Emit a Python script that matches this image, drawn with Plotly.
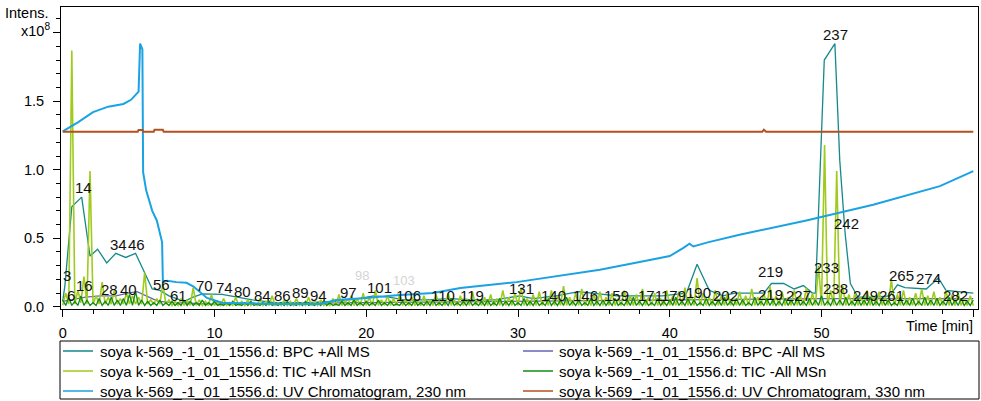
import numpy as np
import plotly.graph_objects as go

FONT = "Liberation Sans, Arial, sans-serif"
SAMPLE = "soya k-569_-1_01_1556.d"

# ---- BPC +All MS (intensity x1e8) ----
bpc_pos_t = [0.0, 0.15, 0.6, 1.25, 1.8, 2.3, 2.9, 3.5, 4.15, 4.8, 5.9, 6.4, 7.0, 8.0, 8.6,
             9.2, 10.5, 11.5, 12.5, 14.0, 16.0, 18.0, 19.5, 20.5, 21.5, 22.5, 24.0, 25.5,
             27.0, 28.5, 30.1, 31.0, 32.5, 34.0, 35.0, 36.5, 38.0, 39.5, 41.1, 41.8, 42.6,
             43.5, 44.3, 45.5, 46.2, 46.7, 47.5, 48.2, 48.8, 49.4, 49.6, 50.18, 50.88,
             51.2, 51.55, 51.9, 52.4, 53.5, 54.5, 55.0, 55.5, 56.9, 57.7, 58.2, 59.0, 60.0]
bpc_pos_v = [0.04, 0.16, 0.73, 0.80, 0.37, 0.42, 0.32, 0.39, 0.36, 0.39, 0.13, 0.12, 0.08,
             0.04, 0.07, 0.095, 0.09, 0.07, 0.05, 0.03, 0.03, 0.04, 0.06, 0.08, 0.07, 0.05,
             0.05, 0.06, 0.05, 0.05, 0.08, 0.06, 0.08, 0.11, 0.10, 0.08, 0.08, 0.08, 0.10,
             0.31, 0.12, 0.08, 0.10, 0.10, 0.10, 0.17, 0.17, 0.13, 0.155, 0.10, 0.10, 1.80,
             1.92, 1.07, 0.54, 0.17, 0.07, 0.07, 0.08, 0.16, 0.14, 0.13, 0.21, 0.12, 0.11, 0.10]

# ---- BPC -All MS ----
bpc_neg_t = [0.0, 0.5, 1.0, 1.5, 2.5, 3.5, 4.3, 4.9, 5.5, 6.3, 7.5, 10.0, 20.0, 30.0, 40.0,
             45.0, 50.0, 55.0, 60.0]
bpc_neg_v = [0.04, 0.05, 0.06, 0.07, 0.08, 0.08, 0.10, 0.11, 0.08, 0.04, 0.03, 0.02, 0.03,
             0.04, 0.05, 0.06, 0.06, 0.06, 0.06]

# ---- TIC +All MSn / TIC -All MSn, one value per 0.2 min scan ----
scan_times = np.round(np.arange(301) * 0.2, 1)
tic_pos = [
    0.01, 0.10, 0.02, 1.87, 0.02, 0.12, 0.03, 0.22, 0.02, 0.99, 0.02, 0.08, 0.02, 0.18, 0.02, 0.07, 0.02, 0.12, 0.02, 0.06,
    0.02, 0.10, 0.02, 0.08, 0.02, 0.07, 0.02, 0.25, 0.02, 0.05, 0.02, 0.06, 0.02, 0.17, 0.02, 0.05, 0.01, 0.04, 0.01, 0.06,
    0.01, 0.05, 0.01, 0.14, 0.01, 0.05, 0.01, 0.04, 0.01, 0.09, 0.01, 0.04, 0.01, 0.06, 0.01, 0.03, 0.01, 0.07, 0.01, 0.04,
    0.01, 0.05, 0.01, 0.03, 0.01, 0.06, 0.01, 0.04, 0.01, 0.08, 0.01, 0.03, 0.01, 0.05, 0.01, 0.04, 0.01, 0.06, 0.01, 0.03,
    0.01, 0.07, 0.01, 0.04, 0.01, 0.05, 0.01, 0.03, 0.01, 0.06, 0.01, 0.09, 0.01, 0.05, 0.01, 0.08, 0.01, 0.06, 0.01, 0.10,
    0.01, 0.07, 0.01, 0.12, 0.01, 0.05, 0.01, 0.08, 0.01, 0.06, 0.01, 0.09, 0.01, 0.05, 0.01, 0.07, 0.01, 0.04, 0.01, 0.08,
    0.01, 0.05, 0.01, 0.09, 0.01, 0.06, 0.01, 0.10, 0.01, 0.05, 0.01, 0.08, 0.01, 0.06, 0.01, 0.11, 0.01, 0.05, 0.01, 0.07,
    0.01, 0.09, 0.01, 0.06, 0.01, 0.12, 0.01, 0.07, 0.01, 0.10, 0.01, 0.14, 0.01, 0.06, 0.01, 0.09, 0.01, 0.11, 0.01, 0.07,
    0.01, 0.12, 0.01, 0.08, 0.01, 0.15, 0.01, 0.07, 0.01, 0.10, 0.01, 0.13, 0.01, 0.06, 0.01, 0.09, 0.01, 0.11, 0.01, 0.07,
    0.01, 0.10, 0.01, 0.06, 0.01, 0.12, 0.01, 0.08, 0.01, 0.09, 0.01, 0.13, 0.01, 0.07, 0.01, 0.10, 0.01, 0.06, 0.01, 0.12,
    0.01, 0.08, 0.01, 0.11, 0.01, 0.14, 0.01, 0.09, 0.01, 0.21, 0.01, 0.10, 0.01, 0.07, 0.01, 0.12, 0.01, 0.08, 0.01, 0.10,
    0.01, 0.06, 0.01, 0.11, 0.01, 0.08, 0.01, 0.13, 0.01, 0.07, 0.01, 0.10, 0.01, 0.15, 0.01, 0.08, 0.01, 0.11, 0.01, 0.07,
    0.01, 0.12, 0.01, 0.08, 0.01, 0.14, 0.01, 0.10, 0.01, 0.30, 0.01, 1.18, 0.01, 0.12, 0.01, 0.99, 0.01, 0.15, 0.01, 0.09,
    0.01, 0.10, 0.01, 0.07, 0.01, 0.12, 0.01, 0.08, 0.01, 0.11, 0.01, 0.07, 0.01, 0.20, 0.01, 0.09, 0.01, 0.12, 0.01, 0.07,
    0.01, 0.10, 0.01, 0.13, 0.01, 0.08, 0.01, 0.11, 0.01, 0.07, 0.01, 0.12, 0.01, 0.09, 0.01, 0.10, 0.01, 0.06, 0.01, 0.08,
    0.01,
]
tic_neg = [
    0.05, 0.01, 0.07, 0.01, 0.04, 0.01, 0.08, 0.01, 0.05, 0.01, 0.03, 0.01, 0.06, 0.01, 0.04, 0.01, 0.07, 0.01, 0.05, 0.01,
    0.06, 0.01, 0.09, 0.01, 0.11, 0.01, 0.05, 0.01, 0.04, 0.01, 0.03, 0.01, 0.05, 0.01, 0.03, 0.01, 0.04, 0.01, 0.03, 0.01,
    0.05, 0.01, 0.04, 0.01, 0.03, 0.01, 0.05, 0.01, 0.03, 0.01, 0.04, 0.01, 0.02, 0.01, 0.03, 0.01, 0.04, 0.01, 0.02, 0.01,
    0.03, 0.01, 0.04, 0.01, 0.02, 0.01, 0.03, 0.01, 0.04, 0.01, 0.02, 0.01, 0.03, 0.01, 0.04, 0.01, 0.02, 0.01, 0.03, 0.01,
    0.04, 0.01, 0.02, 0.01, 0.03, 0.01, 0.04, 0.01, 0.03, 0.01, 0.02, 0.01, 0.04, 0.01, 0.03, 0.01, 0.05, 0.01, 0.03, 0.01,
    0.04, 0.01, 0.03, 0.01, 0.05, 0.01, 0.03, 0.01, 0.04, 0.01, 0.02, 0.01, 0.04, 0.01, 0.03, 0.01, 0.05, 0.01, 0.03, 0.01,
    0.04, 0.01, 0.05, 0.01, 0.03, 0.01, 0.04, 0.01, 0.06, 0.01, 0.03, 0.01, 0.04, 0.01, 0.05, 0.01, 0.03, 0.01, 0.04, 0.01,
    0.05, 0.01, 0.03, 0.01, 0.06, 0.01, 0.04, 0.01, 0.05, 0.01, 0.03, 0.01, 0.06, 0.01, 0.04, 0.01, 0.05, 0.01, 0.03, 0.01,
    0.06, 0.01, 0.04, 0.01, 0.05, 0.01, 0.07, 0.01, 0.04, 0.01, 0.05, 0.01, 0.03, 0.01, 0.06, 0.01, 0.04, 0.01, 0.05, 0.01,
    0.04, 0.01, 0.06, 0.01, 0.03, 0.01, 0.05, 0.01, 0.07, 0.01, 0.04, 0.01, 0.05, 0.01, 0.03, 0.01, 0.06, 0.01, 0.04, 0.01,
    0.05, 0.01, 0.07, 0.01, 0.04, 0.01, 0.06, 0.01, 0.05, 0.01, 0.03, 0.01, 0.06, 0.01, 0.04, 0.01, 0.05, 0.01, 0.07, 0.01,
    0.04, 0.01, 0.06, 0.01, 0.05, 0.01, 0.03, 0.01, 0.07, 0.01, 0.04, 0.01, 0.06, 0.01, 0.05, 0.01, 0.04, 0.01, 0.06, 0.01,
    0.05, 0.01, 0.07, 0.01, 0.04, 0.01, 0.06, 0.01, 0.05, 0.01, 0.08, 0.01, 0.04, 0.01, 0.06, 0.01, 0.05, 0.01, 0.07, 0.01,
    0.04, 0.01, 0.06, 0.01, 0.05, 0.01, 0.07, 0.01, 0.04, 0.01, 0.06, 0.01, 0.05, 0.01, 0.03, 0.01, 0.07, 0.01, 0.05, 0.01,
    0.06, 0.01, 0.04, 0.01, 0.07, 0.01, 0.05, 0.01, 0.06, 0.01, 0.04, 0.01, 0.07, 0.01, 0.05, 0.01, 0.06, 0.01, 0.04, 0.01,
    0.05,
]

# ---- UV chromatograms ----
uv230_t = [0.0, 1.0, 2.0, 3.0, 4.0, 4.5, 5.0, 5.03, 5.1, 5.25, 5.3, 5.5, 5.9, 6.2, 6.55, 6.6,
           6.9, 7.5, 8.15, 8.6, 9.5, 10.5, 14.0, 17.0, 18.0, 20.0, 22.0, 24.4, 26.2, 29.9,
           32.5, 35.4, 38.6, 40.0, 40.9, 41.3, 41.55, 42.5, 44.6, 49.0, 53.4, 57.8, 60.0]
uv230_v = [1.28, 1.345, 1.42, 1.46, 1.48, 1.51, 1.57, 1.70, 1.92, 1.88, 0.98, 0.85, 0.70, 0.63,
           0.47, 0.18, 0.19, 0.18, 0.175, 0.15, 0.065, 0.03, 0.02, 0.02, 0.05, 0.065, 0.085,
           0.10, 0.137, 0.18, 0.22, 0.27, 0.34, 0.37, 0.43, 0.46, 0.44, 0.47, 0.525, 0.63,
           0.745, 0.88, 0.99]
uv330_t = [0.0, 4.95, 5.0, 5.25, 5.3, 6.0, 6.05, 6.6, 6.65, 46.1, 46.2, 46.35, 60.0]
uv330_v = [1.277, 1.277, 1.29, 1.29, 1.277, 1.277, 1.292, 1.292, 1.277, 1.277, 1.292, 1.277, 1.277]

# ---- peak numbers (time, height of the label) ----
peak_labels = ["3", "6", "14", "16", "28", "34", "40", "46", "56", "61", "70", "74", "80", "84",
               "86", "89", "94", "97", "101", "106", "110", "119", "131", "140", "146", "159",
               "171", "179", "190", "202", "219", "219", "227", "233", "237", "238", "242",
               "249", "261", "265", "274", "282"]
label_t = [0.26, 0.52, 1.35, 1.46, 3.06, 3.65, 4.31, 4.87, 6.52, 7.61, 9.37, 10.64, 11.85,
           13.17, 14.49, 15.70, 16.84, 18.81, 20.90, 22.77, 25.08, 26.95, 30.20, 32.33, 34.42,
           36.51, 38.70, 40.24, 41.88, 43.64, 46.61, 46.61, 48.48, 50.35, 50.89, 50.89, 51.66,
           52.87, 54.63, 55.29, 57.04, 58.80]
label_v = [0.232, 0.081, 0.869, 0.154, 0.123, 0.456, 0.123, 0.456, 0.164, 0.081, 0.154, 0.144,
           0.115, 0.081, 0.081, 0.106, 0.081, 0.106, 0.144, 0.081, 0.081, 0.081, 0.130, 0.081,
           0.081, 0.081, 0.081, 0.081, 0.106, 0.081, 0.256, 0.093, 0.081, 0.285, 1.988, 0.130,
           0.609, 0.081, 0.081, 0.227, 0.203, 0.081]

# faint peak numbers of the negative-mode trace, drawn behind
faint_labels = ["98", "103"]
faint_t = [19.72, 22.50]
faint_v = [0.232, 0.195]

series = [
    ("BPC +All MS", bpc_pos_t, bpc_pos_v, "#15898b", 1.3),
    ("BPC -All MS", bpc_neg_t, bpc_neg_v, "#6464b4", 1.2),
    ("TIC +All MSn", scan_times, tic_pos, "#9fcb1e", 1.6),
    ("TIC -All MSn", scan_times, tic_neg, "#118c11", 1.3),
    ("UV Chromatogram, 230 nm", uv230_t, uv230_v, "#1aa2e2", 2.0),
    ("UV Chromatogram, 330 nm", uv330_t, uv330_v, "#b4501e", 2.0),
]

fig = go.Figure()
for name, t, v, color, w in series:
    fig.add_trace(go.Scatter(x=t, y=v, mode="lines", name=f"{SAMPLE}: {name}",
                             line=dict(color=color, width=w), showlegend=False,
                             hoverinfo="skip"))

# Plot frame in pixels
W, H = 981, 401
PL, PR, PT, PB = 61, 978, 7, 309


def paper_x(px):
    return (px - PL) / (PR - PL)


def paper_y(py):
    return (PB - py) / (PB - PT)


annotations = []
for lab, t, v in zip(faint_labels, faint_t, faint_v):
    annotations.append(dict(x=t, y=v, xref="x", yref="y", text=lab, showarrow=False,
                            xanchor="center", yanchor="middle",
                            font=dict(family=FONT, size=13, color="#d4d4d4")))
for lab, t, v in zip(peak_labels, label_t, label_v):
    annotations.append(dict(x=t, y=v, xref="x", yref="y", text=lab, showarrow=False,
                            xanchor="center", yanchor="middle",
                            font=dict(family=FONT, size=15, color="#111")))

# axis captions
annotations += [
    dict(x=paper_x(51), y=paper_y(13), xref="paper", yref="paper", text="Intens.",
         showarrow=False, xanchor="right", yanchor="middle",
         font=dict(family=FONT, size=14.5, color="black")),
    dict(x=paper_x(52), y=paper_y(30), xref="paper", yref="paper", text="x10<sup>8</sup>",
         showarrow=False, xanchor="right", yanchor="middle",
         font=dict(family=FONT, size=14.5, color="black")),
    dict(x=paper_x(975), y=paper_y(326), xref="paper", yref="paper", text="Time [min]",
         showarrow=False, xanchor="right", yanchor="middle",
         font=dict(family=FONT, size=14.5, color="black")),
]

# legend: framed box with two columns
shapes = [dict(type="rect", xref="paper", yref="paper",
               x0=paper_x(60), x1=paper_x(979), y0=paper_y(341), y1=paper_y(399),
               line=dict(color="black", width=1), fillcolor="white", layer="above")]
legend_rows = [351, 371, 391]
legend_cols = [(63, 93, 98), (523, 553, 557)]
for i, (name, _, _, color, _) in enumerate(series):
    col = legend_cols[i % 2]
    row = legend_rows[i // 2]
    shapes.append(dict(type="line", xref="paper", yref="paper",
                       x0=paper_x(col[0]), x1=paper_x(col[1]),
                       y0=paper_y(row), y1=paper_y(row),
                       line=dict(color=color, width=1.5)))
    annotations.append(dict(x=paper_x(col[2]), y=paper_y(row), xref="paper", yref="paper",
                            text=f"{SAMPLE}: {name}", showarrow=False,
                            xanchor="left", yanchor="middle",
                            font=dict(family=FONT, size=15, color="black")))

x_per_px = 60.0 / (973.3 - 62.7)
y_per_px = 1.0 / 137.07
fig.update_layout(
    width=W, height=H,
    margin=dict(l=PL, r=W - PR, t=PT, b=H - PB, pad=0),
    paper_bgcolor="white", plot_bgcolor="white",
    showlegend=False,
    annotations=annotations, shapes=shapes,
    font=dict(family=FONT, size=14.5, color="black"),
    xaxis=dict(range=[(PL - 62.7) * x_per_px, (PR - 62.7) * x_per_px],
               showgrid=False, zeroline=False,
               showline=True, linecolor="black", linewidth=1, mirror=True,
               ticks="outside", ticklen=7, tickcolor="black", tickwidth=1,
               tickvals=[0, 10, 20, 30, 40, 50, 60],
               ticktext=["0", "10", "20", "30", "40", "50", ""],
               ticklabelstandoff=4,
               minor=dict(ticks="outside", ticklen=4, tickcolor="black", dtick=2, tick0=0,
                          showgrid=False),
               tickfont=dict(family=FONT, size=14.5, color="black")),
    yaxis=dict(range=[(306.8 - PB) * y_per_px, (306.8 - PT) * y_per_px],
               showgrid=False, zeroline=False,
               showline=True, linecolor="black", linewidth=1, mirror=True,
               ticks="outside", ticklen=7, tickcolor="black", tickwidth=1,
               tickvals=[0, 0.5, 1.0, 1.5, 2.0],
               ticktext=["0.0", "0.5", "1.0", "1.5", ""],
               ticklabelstandoff=6,
               minor=dict(ticks="outside", ticklen=4, tickcolor="black", dtick=0.1, tick0=0,
                          showgrid=False),
               tickfont=dict(family=FONT, size=14.5, color="black")),
)

fig.write_html("out.html")
